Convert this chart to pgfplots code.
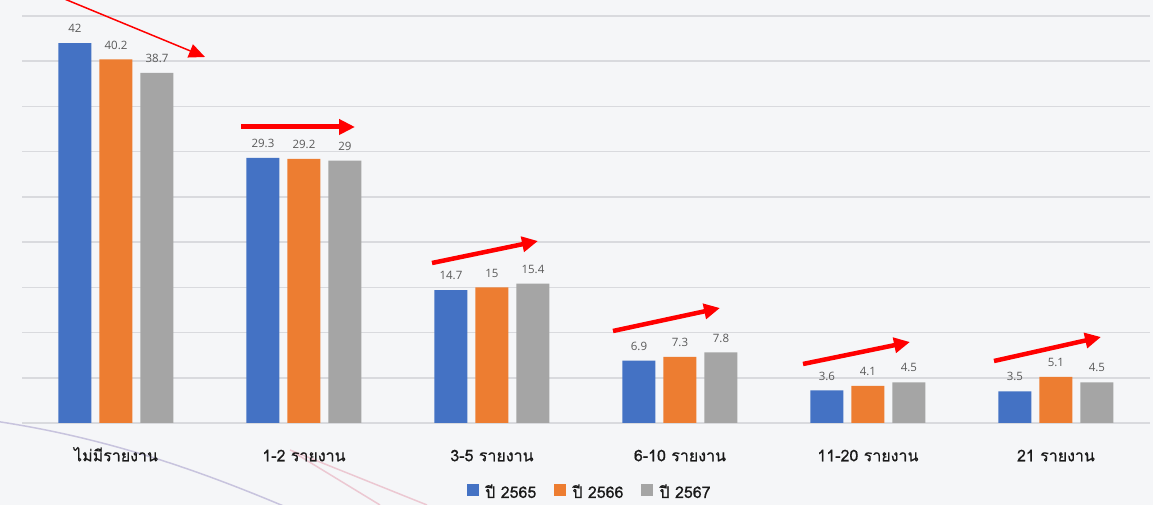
\documentclass[border=0pt]{standalone}
\usepackage{fontspec}
\usepackage{pgfplots}
\pgfplotsset{compat=1.18}
\usetikzlibrary{arrows.meta}
\newfontfamily\thaifont[Script=Thai,FakeBold=0.6]{Loma}
\newfontfamily\valfont{Open Sans}
\definecolor{bg}{RGB}{245,246,248}
\definecolor{gridc}{RGB}{217,218,222}
\definecolor{sblue}{HTML}{4472C4}
\definecolor{sorange}{HTML}{ED7D31}
\definecolor{sgray}{HTML}{A5A5A5}
\definecolor{valc}{HTML}{595959}
\definecolor{labc}{HTML}{1A1A1A}
\definecolor{lav}{RGB}{200,196,222}
\definecolor{pinkl}{RGB}{236,200,210}
\definecolor{arr}{RGB}{255,0,0}
\begin{document}
\begin{tikzpicture}[x=1pt,y=1pt]
\useasboundingbox (0,0) rectangle (1153,505);
\fill[bg] (0,0) rectangle (1153,505);
\begin{scope}
\clip (0,0) rectangle (1153,505);
\draw[lav, line width=1.5pt] (-20,86) .. controls (100,70) and (200,35) .. (300,-8);
\draw[pinkl, line width=1.5pt] (290,55) -- (427,0);
\draw[pinkl, line width=1.5pt] (293,53) -- (380,0);
\end{scope}
\begin{axis}[
  at={(22pt,82pt)}, anchor=south west,
  scale only axis, width=1128pt, height=423pt,
  xmin=-0.5, xmax=5.5, ymin=0, ymax=46.77,
  axis line style={draw=none},
  tick style={draw=none},
  ytick={0,5,...,45}, yticklabels={},
  ymajorgrids, grid style={gridc, line width=1.5pt},
  xtick={0,1,2,3,4,5},
  xticklabels={ไม่มีรายงาน,1-2 รายงาน,3-5 รายงาน,6-10 รายงาน,11-20 รายงาน,21 รายงาน},
  xticklabel style={font=\thaifont\fontsize{16}{18}\selectfont, text=labc, anchor=base, yshift=-34pt},
  ybar=8pt, bar width=33pt,
  /pgf/number format/assume math mode=true,
  nodes near coords,
  every node near coord/.append style={font=\valfont\fontsize{11.5}{13}\selectfont, text=valc, inner sep=0pt, yshift=10pt, anchor=south},
  legend style={draw=none, fill=none, legend columns=-1, at={(0.5035,-0.163)}, anchor=center,
    font=\thaifont\fontsize{16}{18}\selectfont, text=labc,
    /tikz/every odd column/.append style={column sep=4pt},
    /tikz/every even column/.append style={column sep=16pt}},
  legend image code/.code={\fill[#1] (0pt,-4pt) rectangle (12pt,8pt);},
]
\addplot[fill=sblue, draw=none] coordinates {(0,42) (1,29.3) (2,14.7) (3,6.9) (4,3.6) (5,3.5)};
\addplot[fill=sorange, draw=none] coordinates {(0,40.2) (1,29.2) (2,15) (3,7.3) (4,4.1) (5,5.1)};
\addplot[fill=sgray, draw=none] coordinates {(0,38.7) (1,29) (2,15.4) (3,7.8) (4,4.5) (5,4.5)};
\legend{ปี 2565,ปี 2566,ปี 2567}
\end{axis}
\begin{scope}
\clip (0,0) rectangle (1153,505);
\draw[arr, line width=1.5pt, -{Triangle[length=16pt,width=14pt]}] (50,512) -- (205,448);
\draw[arr, line width=5pt, -{Triangle[length=16pt,width=15pt]}] (241,378) -- (355,378);
\draw[arr, line width=4.5pt, -{Triangle[length=16pt,width=15pt]}] (432,242) -- (538,264);
\draw[arr, line width=4.5pt, -{Triangle[length=16pt,width=15pt]}] (613,174) -- (720,197);
\draw[arr, line width=4.5pt, -{Triangle[length=16pt,width=15pt]}] (803,141) -- (910,163);
\draw[arr, line width=4.5pt, -{Triangle[length=16pt,width=15pt]}] (994,144) -- (1101,168);
\end{scope}
\end{tikzpicture}
\end{document}
